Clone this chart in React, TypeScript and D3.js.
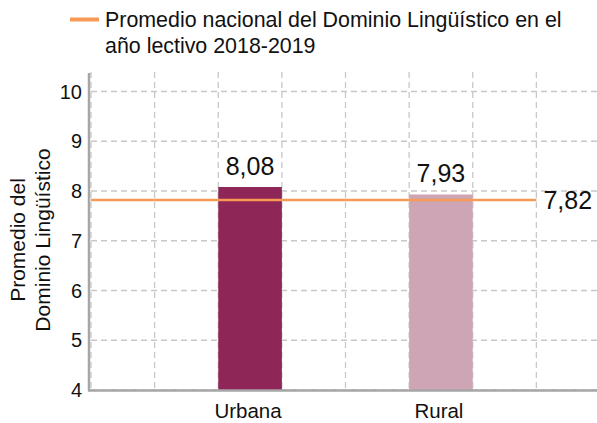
import React from 'react';
import * as d3 from 'd3';

// data
const categories = ['Urbana', 'Rural'];
const values = [8.08, 7.93];
const barColors = ['#8E2657', '#CEA5B5'];
const nationalAverage = 7.82;
const yTicks = [4, 5, 6, 7, 8, 9, 10];
const legendLines = ['Promedio nacional del Dominio Lingüístico en el', 'año lectivo 2018-2019'];
const yTitleLines = ['Promedio del', 'Dominio Lingüístico'];

const width = 597;
const height = 423;
const font = 'Liberation Sans, Arial, sans-serif';

const App = () => {
    const plotLeft = 91;
    const plotRight = 600;
    const plotTop = 73;

    // y scale: 4 at the baseline, 10 at the top tick
    const y = d3.scaleLinear().domain([4, 10]).range([390, 91.5]);

    // bands of one grid unit, three units apart
    const x = d3.scaleBand()
        .domain(categories)
        .range([plotLeft, plotRight])
        .paddingInner(2 / 3)
        .paddingOuter(2 / 3);

    // vertical grid falls on every band edge unit
    const unit = x.bandwidth();
    const gridX = d3.range(0, 9).map(i => plotLeft + i * unit);

    const lineEnd = plotLeft + 7 * unit;

    return (
        <svg
            width={width}
            height={height}
            style={{ position: 'absolute', left: 0, top: 0, background: '#fff' }}
            fontFamily={font}
        >
            {/* legend */}
            <line x1={70} x2={99} y1={19.5} y2={19.5} stroke="#F79A55" strokeWidth={4} />
            {legendLines.map((t, i) => (
                <text key={t} x={105} y={27 + i * 26} fontSize={21.4} fill="#111">{t}</text>
            ))}

            {/* horizontal grid */}
            {yTicks.map(t => (
                <line key={'h' + t} x1={plotLeft} x2={width} y1={y(t)} y2={y(t)}
                    stroke="#C8C8C8" strokeWidth={1.3} strokeDasharray="6,4" />
            ))}
            {/* vertical grid */}
            {gridX.map(gx => (
                <line key={'v' + gx} x1={gx} x2={gx} y1={plotTop - 1} y2={y(4)}
                    stroke="#C8C8C8" strokeWidth={1.3} strokeDasharray="6,4" />
            ))}

            {/* bars */}
            {categories.map((c, i) => (
                <rect key={c} x={x(c)} width={x.bandwidth()} y={y(values[i])}
                    height={y(4) - y(values[i])} fill={barColors[i]} />
            ))}

            {/* national average line */}
            <line x1={plotLeft} x2={lineEnd} y1={y(nationalAverage)} y2={y(nationalAverage)}
                stroke="#F79A55" strokeWidth={2.5} />
            <text x={lineEnd + 7} y={y(nationalAverage) + 9} fontSize={25} fill="#111">
                {String(nationalAverage).replace('.', ',')}
            </text>

            {/* bar labels */}
            {categories.map((c, i) => (
                <text key={'l' + c} x={x(c) + x.bandwidth() / 2} y={y(values[i]) - 12}
                    textAnchor="middle" fontSize={25} fill="#111">
                    {values[i].toFixed(2).replace('.', ',')}
                </text>
            ))}

            {/* axes */}
            <line x1={89} x2={89} y1={plotTop} y2={y(4) + 1} stroke="#A6A6A6" strokeWidth={2.5} />
            <line x1={88} x2={width} y1={y(4) + 0.5} y2={y(4) + 0.5} stroke="#A6A6A6" strokeWidth={2.5} />

            {yTicks.map(t => (
                <text key={'t' + t} x={82} y={y(t) + 7} textAnchor="end" fontSize={20} fill="#111">{t}</text>
            ))}

            {categories.map(c => (
                <text key={'x' + c} x={x(c) + x.bandwidth() / 2 - 2} y={418}
                    textAnchor="middle" fontSize={20.5} fill="#111">{c}</text>
            ))}

            {/* y axis title */}
            {yTitleLines.map((t, i) => (
                <text key={t} transform={`translate(${25 + i * 25},240) rotate(-90)`}
                    textAnchor="middle" fontSize={21} fill="#111">{t}</text>
            ))}
        </svg>
    );
};

export default App;
